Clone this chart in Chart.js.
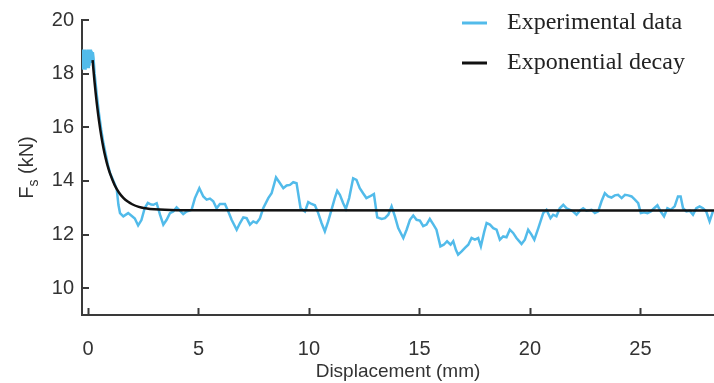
<!DOCTYPE html>
<html>
<head>
<meta charset="utf-8">
<script src="https://cdn.jsdelivr.net/npm/chart.js@4"></script>
<style>
  html, body { margin: 0; padding: 0; background: #fff; }
</style>
</head>
<body>
<canvas id="fsChart" width="714" height="383"></canvas>
<script>
// displacement (mm) / shear force (kN)
const expX = [
  -0.26, -0.23, -0.2, -0.17, -0.14, -0.11, -0.08, -0.05, -0.02, 0.01, 0.04,
  0.07, 0.1, 0.13, 0.16, 0.19, 0.22, 0.25,
  0.3, 0.4, 0.5, 0.6, 0.7, 0.8, 0.9, 1.0, 1.1, 1.2, 1.3, 1.38, 1.45,
  1.6, 1.82, 1.97, 2.12, 2.27, 2.42, 2.57, 2.71, 2.86, 2.96, 3.11, 3.26,
  3.41, 3.56, 3.71, 3.86, 4.01, 4.16, 4.31, 4.46, 4.69, 4.84, 5.04, 5.22,
  5.37, 5.52, 5.67, 5.82, 5.97, 6.2, 6.35, 6.5, 6.73, 6.88, 7.03, 7.18,
  7.33, 7.48, 7.63, 7.78, 7.93, 8.16, 8.31, 8.51, 8.66, 8.84, 8.99, 9.14,
  9.29, 9.44, 9.62, 9.82, 9.97, 10.12, 10.27, 10.42, 10.57, 10.72, 10.87,
  11.02, 11.17, 11.28, 11.4, 11.55, 11.67, 11.82, 12.0, 12.15, 12.3, 12.45,
  12.6, 12.75, 12.94, 13.09, 13.29, 13.44, 13.59, 13.74, 13.89, 14.04,
  14.27, 14.42, 14.57, 14.72, 14.87, 15.02, 15.17, 15.32, 15.47, 15.62,
  15.77, 15.95, 16.1, 16.25, 16.41, 16.53, 16.65, 16.75, 16.91, 17.06,
  17.21, 17.36, 17.51, 17.66, 17.78, 17.93, 18.04, 18.19, 18.34, 18.49,
  18.64, 18.79, 18.94, 19.09, 19.24, 19.39, 19.62, 19.77, 19.92, 20.07,
  20.2, 20.38, 20.6, 20.75, 20.93, 21.05, 21.2, 21.35, 21.51, 21.66,
  21.81, 21.96, 22.11, 22.26, 22.41, 22.56, 22.79, 22.94, 23.09, 23.24,
  23.39, 23.54, 23.69, 23.84, 23.99, 24.15, 24.3, 24.45, 24.6, 24.75,
  24.9, 25.02, 25.17, 25.32, 25.47, 25.62, 25.77, 25.92, 26.07, 26.22,
  26.37, 26.55, 26.7, 26.82, 26.93, 27.08, 27.23, 27.38, 27.53, 27.68,
  27.83, 27.98, 28.13, 28.28
];
const expY = [
  18.9, 18.15, 18.9, 18.2, 18.9, 18.15, 18.85, 18.2, 18.9, 18.25, 18.9,
  18.3, 18.9, 18.4, 18.85, 18.5, 18.8, 18.6,
  18.0, 17.2, 16.5, 15.9, 15.4, 15.0, 14.6, 14.3, 14.1, 13.9, 13.7, 13.1, 12.8,
  12.68, 12.8, 12.7, 12.6, 12.34, 12.54, 12.99, 13.18, 13.12, 13.11, 13.17, 12.74,
  12.37, 12.55, 12.8, 12.86, 13.01, 12.89, 12.76, 12.86, 12.92, 13.36, 13.73, 13.42,
  13.3, 13.34, 13.24, 12.98, 13.14, 13.14, 12.86, 12.55, 12.18, 12.43, 12.64, 12.61,
  12.37, 12.49, 12.43, 12.6, 12.98, 13.36, 13.54, 14.13, 13.95, 13.73, 13.83, 13.85,
  13.95, 13.91, 12.98, 12.86, 13.21, 13.14, 13.09, 12.8, 12.43, 12.12, 12.49,
  12.92, 13.36, 13.63, 13.48, 13.17, 12.96, 13.36, 14.1, 14.04, 13.73, 13.54,
  13.36, 13.42, 13.51, 12.64, 12.58, 12.61, 12.74, 13.05, 12.68, 12.24,
  11.87, 12.18, 12.55, 12.71, 12.55, 12.52, 12.31, 12.37, 12.58, 12.39,
  12.18, 11.56, 11.62, 11.75, 11.62, 11.75, 11.43, 11.25, 11.37, 11.5,
  11.62, 11.87, 11.81, 11.87, 11.56, 12.1, 12.43, 12.37, 12.24, 12.18,
  11.81, 11.93, 11.9, 12.18, 12.06, 11.87, 11.65, 11.81, 12.18, 12.0,
  11.81, 12.24, 12.8, 12.92, 12.61, 12.74, 12.68, 12.98, 13.11, 12.98,
  12.92, 12.86, 12.74, 12.89, 12.98, 12.89, 12.92, 12.8, 12.86, 13.24,
  13.54, 13.42, 13.38, 13.46, 13.48, 13.36, 13.48, 13.46, 13.42, 13.3,
  13.17, 12.8, 12.83, 12.8, 12.86, 12.98, 13.09, 12.86, 12.68, 12.98,
  12.92, 13.05, 13.42, 13.42, 12.98, 12.86, 12.89, 12.74, 12.98, 13.05,
  12.98, 12.86, 12.49, 12.86
];
// fitted exponential decay curve
const fitX = [0.21, 0.3, 0.4, 0.5, 0.6, 0.7, 0.8, 0.9, 1.0, 1.2, 1.4, 1.6, 1.8, 2.0, 2.3, 2.6, 3.0, 4.0, 28.33];
const fitY = [18.5, 17.67, 16.89, 16.24, 15.69, 15.23, 14.85, 14.53, 14.27, 13.86, 13.57, 13.37, 13.23, 13.13, 13.03, 12.98, 12.94, 12.91, 12.9];

const seriesLabels = ["Experimental data", "Exponential decay"];
const seriesColors = ["#52bbea", "#111111"];
const xTicks = [0, 5, 10, 15, 20, 25];
const yTicks = [10, 12, 14, 16, 18, 20];

const axisColor = "#3a3a3a";
const textColor = "#333333";
const sansFont = "'Liberation Sans', Arial, sans-serif";

const toPoints = (xs, ys) => xs.map((x, i) => ({ x: x, y: ys[i] }));

// inward tick marks like the original figure
const inwardTicks = {
  id: "inwardTicks",
  afterDraw(chart) {
    const { ctx, chartArea, scales } = chart;
    ctx.save();
    ctx.strokeStyle = axisColor;
    ctx.lineWidth = 2;
    ctx.beginPath();
    xTicks.forEach((v) => {
      const px = Math.round(scales.x.getPixelForValue(v)) + 0.5;
      ctx.moveTo(px, chartArea.bottom);
      ctx.lineTo(px, chartArea.bottom - 7);
    });
    yTicks.forEach((v) => {
      const py = Math.round(scales.y.getPixelForValue(v));
      ctx.moveTo(chartArea.left, py);
      ctx.lineTo(chartArea.left + 7, py);
    });
    ctx.stroke();
    ctx.restore();
  },
};

// y title with subscript s
const yTitle = {
  id: "yTitle",
  afterDraw(chart) {
    const { ctx, chartArea } = chart;
    const cy = (chartArea.top + chartArea.bottom) / 2;
    const big = "20px " + sansFont;
    const small = "14px " + sansFont;
    ctx.save();
    ctx.fillStyle = textColor;
    ctx.textBaseline = "alphabetic";
    ctx.font = big;
    const wF = ctx.measureText("F").width;
    const wRest = ctx.measureText(" (kN)").width;
    ctx.font = small;
    const wS = ctx.measureText("s").width;
    const total = wF + wS + wRest;
    ctx.translate(33, cy);
    ctx.rotate(-Math.PI / 2);
    let x = -total / 2;
    ctx.font = big;
    ctx.fillText("F", x, 0);
    x += wF;
    ctx.font = small;
    ctx.fillText("s", x, 5);
    x += wS;
    ctx.font = big;
    ctx.fillText(" (kN)", x, 0);
    ctx.restore();
  },
};

// legend in the upper right corner
const cornerLegend = {
  id: "cornerLegend",
  afterDraw(chart) {
    const { ctx } = chart;
    ctx.save();
    ctx.font = "24px 'Liberation Serif', 'Times New Roman', serif";
    ctx.textBaseline = "middle";
    chart.data.datasets.forEach((ds, i) => {
      const y = 23 + i * 40;
      ctx.strokeStyle = ds.borderColor;
      ctx.lineWidth = 3;
      ctx.beginPath();
      ctx.moveTo(462, y);
      ctx.lineTo(487, y);
      ctx.stroke();
      ctx.fillStyle = "#222";
      ctx.fillText(ds.label, 507, y);
    });
    ctx.restore();
  },
};

new Chart(document.getElementById("fsChart"), {
  type: "scatter",
  data: {
    datasets: [
      {
        label: seriesLabels[0],
        data: toPoints(expX, expY),
        showLine: true,
        borderColor: seriesColors[0],
        borderWidth: 2.5,
        pointRadius: 0,
        tension: 0,
        order: 1,
      },
      {
        label: seriesLabels[1],
        data: toPoints(fitX, fitY),
        showLine: true,
        borderColor: seriesColors[1],
        borderWidth: 2.5,
        pointRadius: 0,
        tension: 0.4,
        cubicInterpolationMode: "monotone",
        order: 0,
      },
    ],
  },
  options: {
    responsive: false,
    animation: false,
    layout: { padding: { top: 16, left: 0, right: 0, bottom: 0 } },
    plugins: {
      legend: { display: false },
      tooltip: { enabled: false },
    },
    scales: {
      x: {
        type: "linear",
        min: -0.27,
        max: 28.33,
        afterBuildTicks: (scale) => { scale.ticks = xTicks.map((v) => ({ value: v })); },
        afterFit: (scale) => { scale.height = 68; },
        grid: { display: false, drawTicks: false },
        border: { display: true, color: axisColor, width: 2 },
        ticks: { padding: 22, color: textColor, font: { family: sansFont, size: 20 } },
        title: {
          display: true,
          text: "Displacement (mm)",
          color: textColor,
          font: { family: sansFont, size: 19 },
          padding: { top: 0, bottom: 0 },
        },
      },
      y: {
        type: "linear",
        min: 9,
        max: 20,
        afterBuildTicks: (scale) => { scale.ticks = yTicks.map((v) => ({ value: v })); },
        afterFit: (scale) => { scale.width = 82; },
        grid: { display: false, drawTicks: false },
        border: { display: true, color: axisColor, width: 2 },
        ticks: { padding: 8, color: textColor, font: { family: sansFont, size: 20 } },
      },
    },
  },
  plugins: [inwardTicks, yTitle, cornerLegend],
});
</script>
</body>
</html>
